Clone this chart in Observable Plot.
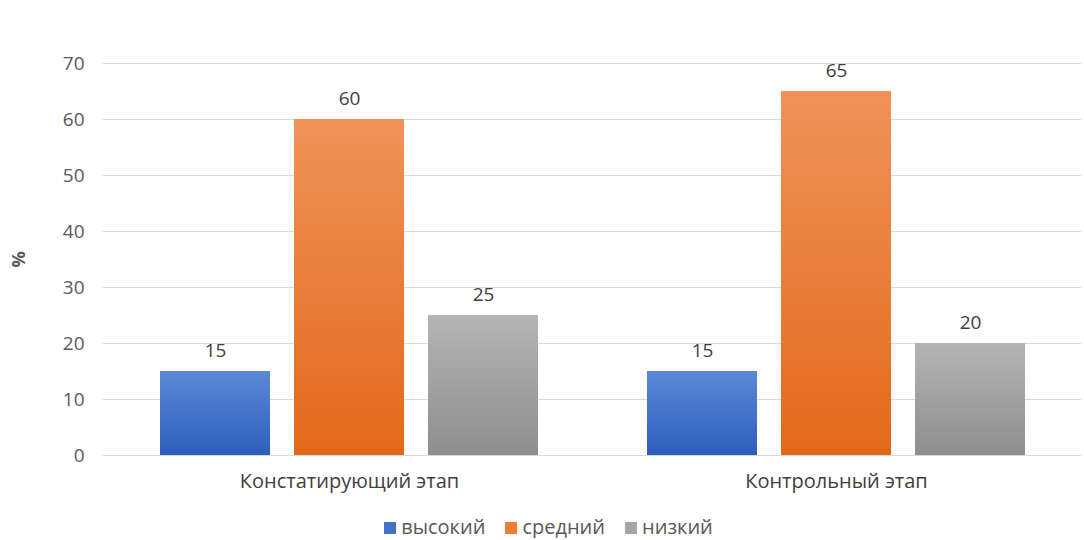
<!DOCTYPE html>
<html>
<head>
<meta charset="utf-8">
<script src="https://cdn.jsdelivr.net/npm/d3@7"></script>
<script src="https://cdn.jsdelivr.net/npm/@observablehq/plot@0.6"></script>
<style>
  body { margin: 0; background: #fff; font-family: "Open Sans", sans-serif; }
  #chart { width: 1084px; }
  .legend { display: flex; justify-content: center; align-items: center; gap: 20px; margin-top: 16px; padding-left: 13px; font-size: 20px; color: #595959; line-height: 22px; }
  .legend span.sw { display: inline-block; width: 12px; height: 12px; margin-right: 5px; vertical-align: middle; position: relative; top: -1px; }
  svg [aria-label="y-axis label"] text, svg g[aria-label="y-axis label"] { font-weight: bold; font-size: 18px; }
</style>
</head>
<body>
<svg width="0" height="0" style="position:absolute">
  <defs id="defs"></defs>
</svg>
<div id="chart"></div>
<script>
const stages = ["Констатирующий этап", "Контрольный этап"];
const levels = ["высокий", "средний", "низкий"];
const highValues = [15, 15];
const midValues = [60, 65];
const lowValues = [25, 20];
const yTicks = [0, 10, 20, 30, 40, 50, 60, 70];
const colorsTop = ["#5c88d6", "#f09258", "#b4b4b4"];
const colorsBottom = ["#2e5ebd", "#e2691a", "#8e8e8e"];
const colorsLegend = ["#4472c4", "#ed7d31", "#a5a5a5"];

// gradients
const defs = document.getElementById("defs");
levels.forEach((l, i) => {
  const g = document.createElementNS("http://www.w3.org/2000/svg", "linearGradient");
  g.setAttribute("id", "g" + i);
  g.setAttribute("x1", "0"); g.setAttribute("y1", "0");
  g.setAttribute("x2", "0"); g.setAttribute("y2", "1");
  [[0, colorsTop[i]], [1, colorsBottom[i]]].forEach(([o, c]) => {
    const s = document.createElementNS("http://www.w3.org/2000/svg", "stop");
    s.setAttribute("offset", o);
    s.setAttribute("stop-color", c);
    g.appendChild(s);
  });
  defs.appendChild(g);
});

const seriesValues = [highValues, midValues, lowValues];
const data = [];
stages.forEach((s, si) => {
  levels.forEach((l, li) => {
    data.push({stage: s, level: l, value: seriesValues[li][si], fill: "url(#g" + li + ")"});
  });
});

const chart = Plot.plot({
  width: 1084,
  height: 500,
  marginLeft: 104,
  marginRight: 2,
  marginTop: 63,
  marginBottom: 45,
  style: {fontFamily: "Open Sans, sans-serif", background: "#fff"},
  fx: {domain: stages, paddingInner: 0.2197, paddingOuter: 0.113, label: null, axis: null},
  x: {domain: levels, paddingInner: 0.18, paddingOuter: 0, axis: null},
  y: {domain: [0, 70], axis: null, label: "%"},
  color: {type: "identity"},
  marks: [
    Plot.ruleY(yTicks, {stroke: "#d9d9d9", strokeWidth: 1, insetLeft: -56, insetRight: -55}),
    Plot.axisY({ticks: yTicks, tickSize: 0, tickPadding: 75, fontSize: 19, fill: "#595959",
      label: "%", labelArrow: "none", labelAnchor: "center", labelOffset: 147}),
    Plot.barY(data, {fx: "stage", x: "level", y: "value", fill: "fill"}),
    Plot.text(data, {fx: "stage", x: "level", y: "value", text: d => String(d.value), dy: -21, fontSize: 19, fill: "#404040"}),
    Plot.axisFx({anchor: "bottom", tickSize: 0, tickPadding: 18, fontSize: 20, fill: "#404040", label: null})
  ]
});
document.getElementById("chart").appendChild(chart);

const legend = document.createElement("div");
legend.className = "legend";
levels.forEach((l, i) => {
  const item = document.createElement("div");
  item.innerHTML = `<span class="sw" style="background:${colorsLegend[i]}"></span>${l}`;
  legend.appendChild(item);
});
document.getElementById("chart").appendChild(legend);
</script>
</body>
</html>
